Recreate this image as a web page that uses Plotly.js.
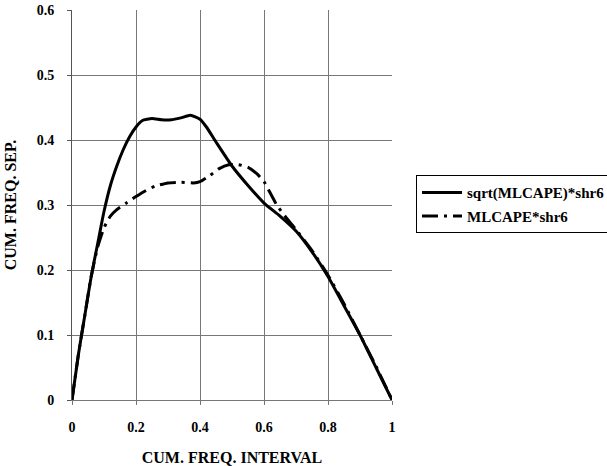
<!DOCTYPE html>
<html>
<head>
<meta charset="utf-8">
<script src="https://cdn.plot.ly/plotly-3.0.1.min.js"></script>
<style>html,body{margin:0;padding:0;background:#fff;}#chart{width:607px;height:466px;}</style>
</head>
<body>
<div id="chart"></div>
<script>
const seriesNames = ["sqrt(MLCAPE)*shr6", "MLCAPE*shr6"];
const xSqrt = [0, 0.02, 0.04, 0.06, 0.08, 0.10, 0.12, 0.14, 0.16, 0.18, 0.20, 0.22, 0.25, 0.28, 0.31, 0.34, 0.37, 0.40, 0.42, 0.45, 0.50, 0.55, 0.60, 0.65, 0.70, 0.75, 0.80, 0.85, 0.90, 0.95, 1.0];
const ySqrt = [0, 0.07, 0.13, 0.19, 0.24, 0.29, 0.33, 0.36, 0.385, 0.405, 0.42, 0.43, 0.433, 0.431, 0.431, 0.434, 0.438, 0.432, 0.42, 0.397, 0.36, 0.33, 0.303, 0.283, 0.26, 0.228, 0.19, 0.145, 0.1, 0.05, 0.0];
const xMl = [0, 0.02, 0.04, 0.06, 0.08, 0.10, 0.12, 0.14, 0.17, 0.20, 0.23, 0.26, 0.30, 0.34, 0.38, 0.40, 0.43, 0.46, 0.49, 0.52, 0.55, 0.58, 0.60, 0.62, 0.64, 0.67, 0.70, 0.75, 0.80, 0.85, 0.90, 0.95, 1.0];
const yMl = [0, 0.07, 0.13, 0.19, 0.235, 0.265, 0.283, 0.293, 0.303, 0.313, 0.322, 0.329, 0.334, 0.335, 0.334, 0.336, 0.345, 0.356, 0.362, 0.362, 0.358, 0.347, 0.336, 0.318, 0.300, 0.28, 0.262, 0.23, 0.192, 0.148, 0.1, 0.052, 0];
const xTickVals = [0, 0.2, 0.4, 0.6, 0.8, 1];
const xTickText = ["0", "0.2", "0.4", "0.6", "0.8", "1"];
const yTickVals = [0, 0.1, 0.2, 0.3, 0.4, 0.5, 0.6];
const yTickText = ["0", "0.1", "0.2", "0.3", "0.4", "0.5", "0.6"];

const FAM = "Liberation Serif";
function f(size) { return {family: FAM, size: size, color: "#000", weight: "bold"}; }
const traces = [
  {x: xSqrt, y: ySqrt, name: seriesNames[0], mode: "lines", legendgroup: "a",
   line: {color: "#000", width: 3, shape: "spline", smoothing: 0.5}},
  {x: xMl, y: yMl, name: seriesNames[1], mode: "lines", legendgroup: "b",
   line: {color: "#000", width: 3, dash: "16px,6px,3px,6px", shape: "spline", smoothing: 0.5}}
];
const layout = {
  width: 607, height: 466,
  margin: {l: 72, r: 215, t: 10, b: 66, autoexpand: false},
  paper_bgcolor: "#fff", plot_bgcolor: "#fff",
  font: f(14),
  showlegend: true,
  legend: {x: 1.075, y: 0.576, xanchor: "left", yanchor: "top",
    bordercolor: "#000", borderwidth: 1, bgcolor: "#fff",
    itemwidth: 40, tracegroupgap: 1,
    font: f(15)},
  xaxis: {range: [0, 1], tickvals: xTickVals, ticktext: xTickText,
    showgrid: true, gridcolor: "#777", gridwidth: 1,
    showline: true, linecolor: "#777", linewidth: 1,
    ticks: "outside", ticklen: 4, tickcolor: "#777",
    ticklabelstandoff: 10, automargin: false,
    zeroline: false, fixedrange: true,
    tickfont: f(14),
    title: {text: "CUM. FREQ. INTERVAL", standoff: 20, font: f(16)}},
  yaxis: {range: [0, 0.6], tickvals: yTickVals, ticktext: yTickText,
    showgrid: true, gridcolor: "#777", gridwidth: 1,
    showline: true, linecolor: "#555", linewidth: 1,
    ticks: "outside", ticklen: 4, tickcolor: "#555",
    ticklabelstandoff: 10, automargin: false,
    zeroline: false, fixedrange: true,
    tickfont: f(14),
    title: {text: "CUM. FREQ. SEP.", standoff: 16, font: f(16)}}
};
Plotly.newPlot("chart", traces, layout, {staticPlot: true, displayModeBar: false});
</script>
</body>
</html>
